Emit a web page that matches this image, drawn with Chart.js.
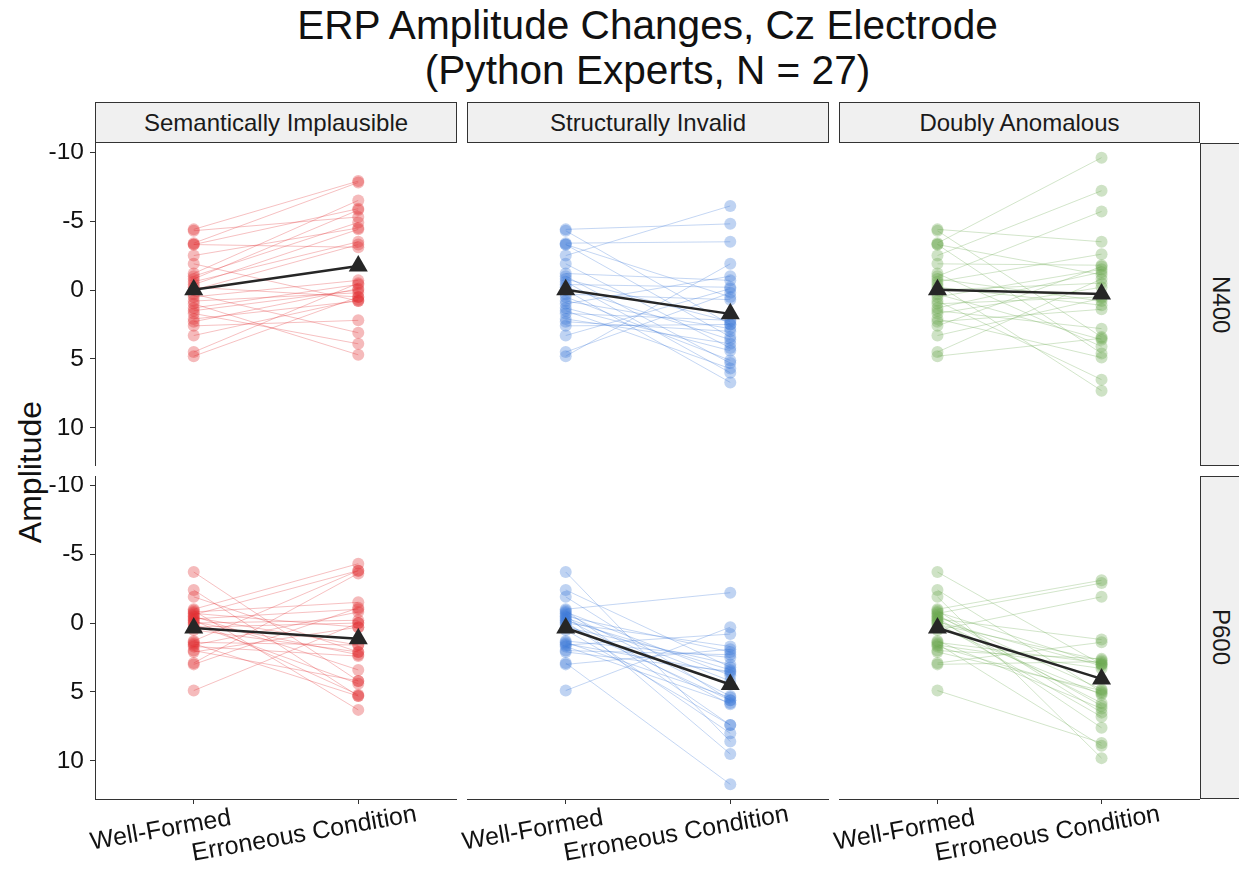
<!DOCTYPE html>
<html>
<head>
<meta charset="utf-8">
<script src="https://cdn.jsdelivr.net/npm/chart.js@4"></script>
<style>
  body { margin: 0; background: #fff; font-family: "Liberation Sans", Arial, sans-serif; }
  #page { position: relative; width: 1239px; height: 869px; overflow: hidden; }
  canvas { position: absolute; }
  .title { position: absolute; left: 95px; top: 3px; width: 1105px; text-align: center; font-size: 40.6px; line-height: 45px; color: #111; }
  .strip { position: absolute; box-sizing: border-box; border: 1px solid #333; background: #f0f0f0;
           display: flex; align-items: center; justify-content: center; font-size: 24px; color: #1a1a1a; }
  .strip.right { writing-mode: vertical-rl; }
  .ylab { position: absolute; left: 30px; top: 472px; transform: translate(-50%, -50%) rotate(-90deg);
          font-size: 32px; color: #111; white-space: nowrap; }
</style>
</head>
<body>
<div id="page">
  <div class="title">ERP Amplitude Changes, Cz Electrode<br>(Python Experts, N = 27)</div>
  <div class="ylab">Amplitude</div>
</div>
<script>
const conditions = ['Semantically Implausible', 'Structurally Invalid', 'Doubly Anomalous']
const components = ['N400', 'P600']
const xLabels = ['Well-Formed', 'Erroneous Condition']
const yTicks = [-10, -5, 0, 5, 10]

// one value per subject (27), same subject order in every array
const wellFormedN400 = [-4.4, -4.3, -3.4, -3.3, -3.3, -2.5, -1.9, -1.2, -1.0, -0.8, -0.6, -0.4, -0.2, 0.0, 0.3, 0.5, 0.8, 1.0, 1.3, 1.5, 1.7, 2.1, 2.3, 2.6, 3.3, 4.5, 4.8]
const semanticN400 = [-7.9, -5.3, -7.8, -3.1, -5.9, -4.5, 0.8, -6.5, -4.9, -5.8, -3.5, -4.4, 0.5, -3.3, 3.1, -0.7, 0.2, 4.7, -0.4, 0.0, 3.9, 0.8, -0.1, 2.2, 0.7, -0.5, 0.5]
const structuralN400 = [-4.8, 2.5, -3.5, 3.4, 0.5, -6.1, 4.2, -0.7, 5.3, 2.3, 6.0, -0.2, 3.6, 6.7, 0.7, 5.1, 2.8, -1.0, 4.4, 5.7, 2.2, 3.9, 3.0, 2.5, -0.1, 0.2, -1.9]
const doublyN400 = [-3.5, 3.4, -9.6, 4.6, -1.1, -7.2, -1.8, 4.1, -5.7, 0.8, -2.6, 7.3, 1.1, -0.5, 3.6, -1.5, 6.5, 0.5, -1.3, 2.8, -0.2, 4.9, 1.4, -1.7, 0.6, -0.8, 3.5]

const wellFormedP600 = [-3.7, -2.4, -1.9, -1.0, -0.9, -0.8, -0.7, -0.6, -0.5, -0.4, -0.3, -0.2, -0.1, 0.0, 0.1, 0.3, 0.5, 1.3, 1.4, 1.5, 1.6, 1.7, 2.0, 2.1, 2.9, 3.0, 4.9]
const semanticP600 = [4.2, 5.3, 2.1, -4.3, 6.3, -1.5, 0.3, -3.8, 3.4, 1.6, -1.0, 5.2, 2.3, -0.2, 4.4, 0.0, 2.1, -3.8, 1.6, 5.3, -0.8, 2.4, 4.2, 0.3, -3.6, -1.1, 0.0]
const structuralP600 = [8.6, 3.2, 5.6, -2.2, 7.4, 3.8, 5.3, 9.5, 2.1, 4.2, 5.9, 3.4, 8.0, 1.7, 5.6, 3.0, 7.4, 2.5, 5.4, 3.6, 0.8, 5.8, 2.3, 3.5, 11.7, 1.9, 0.3]
const doublyP600 = [3.0, 5.0, 9.8, -3.1, 6.5, 3.0, -2.9, 6.0, 4.8, 7.6, 1.2, 5.8, 3.1, 6.8, 2.7, 5.2, -1.9, 6.2, 2.9, 8.9, 3.3, 5.1, 2.6, 4.9, 1.4, 2.8, 8.7]

const baseline = [wellFormedN400, wellFormedP600]
const erroneous = [
  [semanticN400, structuralN400, doublyN400],
  [semanticP600, structuralP600, doublyP600]
]
const colors = [[226, 45, 50], [60, 120, 216], [106, 168, 79]]

const FONT = '"Liberation Sans", Arial, sans-serif'
const colLeft = [95, 467, 839]
const rowTop = [143, 476]
const panelW = 362, panelH = 323, axisW = 95, axisH = 70, labelRoom = 20

// y limits like ggplot: data range plus 5% each side
const allVals = baseline.flat().concat(erroneous.flat(2))
const dMin = Math.min(...allVals), dMax = Math.max(...allVals)
const pad = (dMax - dMin) * 0.05

const mean = arr => arr.reduce((a, b) => a + b, 0) / arr.length
const rgba = (c, a) => `rgba(${c[0]},${c[1]},${c[2]},${a})`

const slantLabels = {
  id: 'slantLabels',
  afterDraw(chart) {
    const sx = chart.scales.x
    if (!sx.options.display) return
    const ctx = chart.ctx
    ctx.save()
    ctx.font = '25px ' + FONT
    ctx.fillStyle = '#111'
    ctx.textBaseline = 'top'
    xLabels.forEach((lab, i) => {
      const px = sx.getPixelForValue(i + 1)
      const w = ctx.measureText(lab).width
      ctx.save()
      ctx.translate(px, sx.top + 13)
      ctx.rotate(-10 * Math.PI / 180)
      ctx.fillText(lab, -0.75 * w, 0)
      ctx.restore()
    })
    ctx.restore()
  }
}

const noPad = s => { s.paddingTop = 0; s.paddingBottom = 0; s.paddingLeft = 0; s.paddingRight = 0 }

const page = document.getElementById('page')

// strips
conditions.forEach((c, j) => {
  let d = document.createElement('div')
  d.className = 'strip'
  d.style.left = colLeft[j] + 'px'
  d.style.top = '102px'
  d.style.width = (j == 2 ? panelW - 1 : panelW) + 'px'
  d.style.height = '41px'
  d.innerText = c
  page.appendChild(d)
})
components.forEach((c, i) => {
  let d = document.createElement('div')
  d.className = 'strip right'
  d.style.left = '1200px'
  d.style.top = rowTop[i] + 'px'
  d.style.width = '42px'
  d.style.height = panelH + 'px'
  d.innerText = c
  page.appendChild(d)
})

components.forEach((comp, r) => {
  conditions.forEach((cond, c) => {
    const wf = baseline[r]
    const err = erroneous[r][c]
    const col = colors[c]
    const showY = c == 0, showX = r == 1
    // inner bottom panels get a little room on the left for the slanted labels
    const extraLeft = (showX && !showY) ? labelRoom : 0

    let canvas = document.createElement('canvas')
    const w = panelW + (showY ? axisW : 0) + extraLeft - (c == 2 ? 1 : 0)
    const h = panelH + (showX ? axisH : 0)
    canvas.width = w
    canvas.height = h
    canvas.style.left = (colLeft[c] - (showY ? axisW : 0) - extraLeft) + 'px'
    canvas.style.top = rowTop[r] + 'px'
    page.appendChild(canvas)

    const datasets = []
    datasets.push({
      data: [{x: 1, y: mean(wf)}, {x: 2, y: mean(err)}],
      showLine: true,
      borderColor: '#262626',
      borderWidth: 2.5,
      pointStyle: 'triangle',
      pointRadius: 11,
      pointBackgroundColor: '#262626',
      pointBorderWidth: 0,
      order: 0
    })
    datasets.push({
      data: wf.map(v => ({x: 1, y: v})).concat(err.map(v => ({x: 2, y: v}))),
      showLine: false,
      pointRadius: 6,
      pointBackgroundColor: rgba(col, 0.33),
      pointBorderWidth: 0,
      order: 1
    })
    wf.forEach((v, k) => {
      datasets.push({
        data: [{x: 1, y: v}, {x: 2, y: err[k]}],
        showLine: true,
        borderColor: rgba(col, 0.3),
        borderWidth: 1,
        pointRadius: 0,
        order: 2
      })
    })

    const xScale = {
      type: 'linear',
      min: 0.4,
      max: 2.6,
      display: showX,
      afterBuildTicks: s => { s.ticks = [{value: 1}, {value: 2}] },
      ticks: {display: false},
      grid: {drawOnChartArea: false, drawTicks: true, tickLength: 5, color: '#333', tickColor: '#333'},
      border: {display: true, color: '#333', width: 1}
    }
    if (showX) xScale.afterFit = s => { s.height = axisH; noPad(s) }

    const yScale = {
      type: 'linear',
      reverse: true,
      min: dMin - pad,
      max: dMax + pad,
      display: showY,
      afterBuildTicks: s => { s.ticks = yTicks.map(v => ({value: v})) },
      ticks: {font: {size: 24.5, family: FONT}, color: '#111', padding: 6},
      grid: {drawOnChartArea: false, drawTicks: true, tickLength: 5, color: '#333', tickColor: '#333'},
      border: {display: true, color: '#333', width: 1}
    }
    if (showY) yScale.afterFit = s => { s.width = axisW; noPad(s) }

    new Chart(canvas, {
      type: 'scatter',
      data: {datasets: datasets},
      plugins: [slantLabels],
      options: {
        responsive: false,
        animation: false,
        events: [],
        layout: {padding: {left: extraLeft, top: 0, right: 0, bottom: 0}, autoPadding: false},
        plugins: {legend: {display: false}, tooltip: {enabled: false}},
        scales: {x: xScale, y: yScale}
      }
    })
  })
})
</script>
</body>
</html>
